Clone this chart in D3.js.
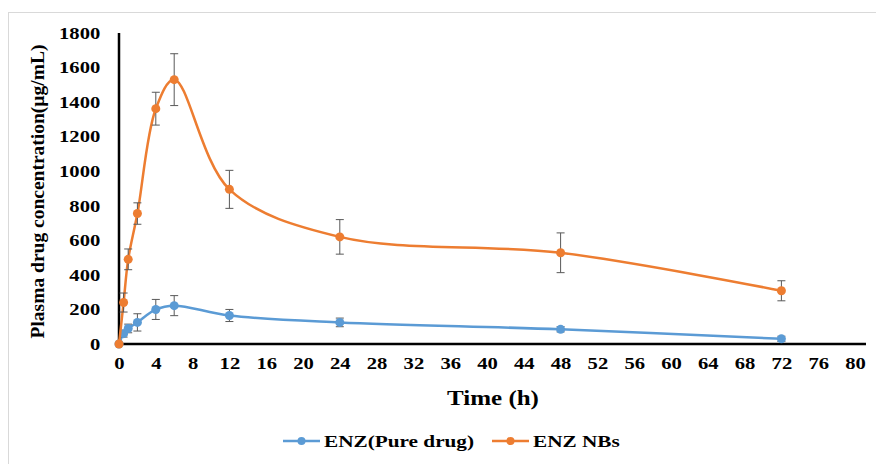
<!DOCTYPE html>
<html>
<head>
<meta charset="utf-8">
<script src="https://cdn.jsdelivr.net/npm/d3@7"></script>
<style>
  html, body { margin: 0; padding: 0; background: #fff; }
  svg { display: block; }
  text { font-family: "Liberation Serif", "Times New Roman", serif; font-weight: bold; fill: #000; }
</style>
</head>
<body>
<svg id="chart" width="876" height="464"></svg>
<script>
// Sampling times (h)
const times = [0, 0.5, 1, 2, 4, 6, 12, 24, 48, 72];

// Mean plasma concentration (µg/mL) and SD for each formulation
const pureDrugMean = [0, 60, 90, 125, 200, 222, 165, 125, 85, 30];
const pureDrugSD   = [0, 20, 25, 50, 58, 58, 35, 25, 15, 15];
const nbsMean      = [0, 240, 490, 755, 1362, 1530, 895, 620, 528, 308];
const nbsSD        = [0, 55, 60, 62, 95, 150, 110, 100, 115, 58];

const seriesNames  = ["ENZ(Pure drug)", "ENZ NBs"];
const seriesColors = ["#5B9BD5", "#ED7D31"];

const xTicks = d3.range(0, 81, 4);
const yTicks = d3.range(0, 1801, 200);

// the serif lettering is drawn a little wide
const stretch = 1.25;

const svg = d3.select("#chart");

// light outer frame
svg.append("rect")
  .attr("x", 8.5).attr("y", 12.5)
  .attr("width", 900).attr("height", 500)
  .attr("fill", "none").attr("stroke", "#d9d9d9").attr("stroke-width", 1);

const x = d3.scaleLinear().domain([0, 80]).range([119, 855]);
const y = d3.scaleLinear().domain([0, 1800]).range([344, 33]);

// axes
const xAxis = svg.append("g").attr("transform", `translate(0,${y(0)})`)
  .call(d3.axisBottom(x).tickValues(xTicks).tickFormat(d3.format("d")).tickSize(0).tickPadding(13));
xAxis.select(".domain").remove();
xAxis.selectAll("text").style("font-size", "16.5px").attr("font-family", null).attr("fill", null)
  .attr("transform", `scale(${stretch},1)`);

const yAxis = svg.append("g").attr("transform", `translate(${x(0)},0)`)
  .call(d3.axisLeft(y).tickValues(yTicks).tickFormat(d3.format("d")).tickSize(0).tickPadding(15));
yAxis.select(".domain").remove();
yAxis.selectAll("text").style("font-size", "16.5px").attr("font-family", null).attr("fill", null)
  .attr("transform", `scale(${stretch},1)`);

// axis lines
svg.append("line").attr("x1", x(0) - 1).attr("x2", 866)
  .attr("y1", y(0)).attr("y2", y(0)).attr("stroke", "#000").attr("stroke-width", 2.5);
svg.append("line").attr("x1", x(0)).attr("x2", x(0))
  .attr("y1", y(1800)).attr("y2", y(0)).attr("stroke", "#000").attr("stroke-width", 2.5);

// axis titles
svg.append("text")
  .attr("transform", `translate(493,405) scale(${stretch},1)`)
  .attr("text-anchor", "middle").style("font-size", "20px").text("Time (h)");
svg.append("text")
  .attr("transform", `translate(44,${(y(0) + y(1800)) / 2 + 3}) rotate(-90)`)
  .attr("text-anchor", "middle").style("font-size", "19.5px")
  .text("Plasma drug concentration(µg/mL)");

const series = [
  { name: seriesNames[0], color: seriesColors[0], mean: pureDrugMean, sd: pureDrugSD },
  { name: seriesNames[1], color: seriesColors[1], mean: nbsMean, sd: nbsSD }
];

const line = d3.line()
  .x(d => x(d.t)).y(d => y(d.v))
  .curve(d3.curveCatmullRom.alpha(0.5));

series.forEach(s => {
  const pts = times.map((t, i) => ({ t, v: s.mean[i], sd: s.sd[i] }));
  const g = svg.append("g");

  g.append("path").datum(pts)
    .attr("d", line).attr("fill", "none")
    .attr("stroke", s.color).attr("stroke-width", 2.5);

  // error bars
  const eb = g.selectAll(".eb").data(pts.filter(d => d.sd > 0)).enter().append("g");
  eb.append("line")
    .attr("x1", d => x(d.t)).attr("x2", d => x(d.t))
    .attr("y1", d => y(d.v + d.sd)).attr("y2", d => y(d.v - d.sd))
    .attr("stroke", "#595959").attr("stroke-width", 1);
  [1, -1].forEach(k => {
    eb.append("line")
      .attr("x1", d => x(d.t) - 4).attr("x2", d => x(d.t) + 4)
      .attr("y1", d => y(d.v + k * d.sd)).attr("y2", d => y(d.v + k * d.sd))
      .attr("stroke", "#595959").attr("stroke-width", 1);
  });

  g.selectAll("circle").data(pts).enter().append("circle")
    .attr("cx", d => x(d.t)).attr("cy", d => y(d.v))
    .attr("r", 4.5).attr("fill", s.color);
});

// legend
const legendItems = [
  { name: seriesNames[0], color: seriesColors[0], x0: 283 },
  { name: seriesNames[1], color: seriesColors[1], x0: 492 }
];
const lg = svg.append("g");
legendItems.forEach(it => {
  lg.append("line").attr("x1", it.x0).attr("x2", it.x0 + 37)
    .attr("y1", 441).attr("y2", 441).attr("stroke", it.color).attr("stroke-width", 2.5);
  lg.append("circle").attr("cx", it.x0 + 18.5).attr("cy", 441).attr("r", 4).attr("fill", it.color);
  lg.append("text")
    .attr("transform", `translate(${it.x0 + 41},447) scale(${stretch},1)`)
    .style("font-size", "17px").text(it.name);
});
</script>
</body>
</html>
